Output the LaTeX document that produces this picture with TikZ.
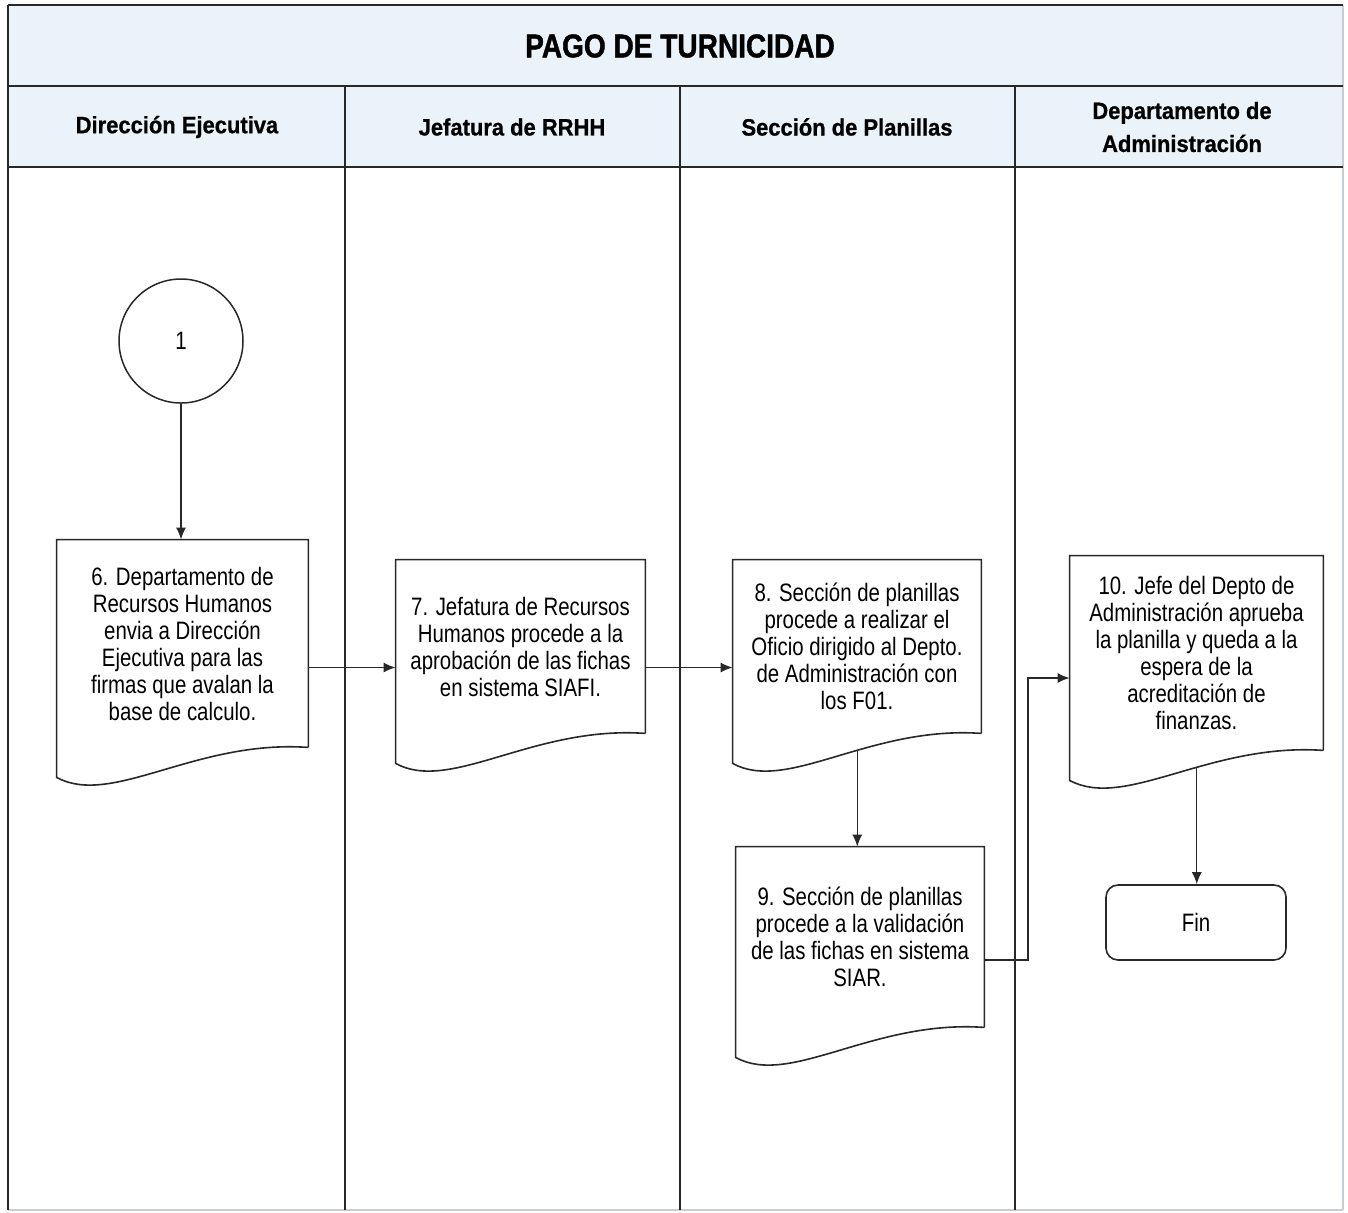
\documentclass[tikz,border=0pt]{standalone}
\usepackage{fontspec}
\usetikzlibrary{arrows.meta,calc,shapes.misc}
\newfontfamily\bodyfont{Liberation Sans}[FakeStretch=0.81]
\newfontfamily\titlefont{Liberation Sans}[FakeStretch=0.85,FakeBold=1.2]
\newfontfamily\lanefont{Liberation Sans}[FakeStretch=0.93,FakeBold=0.8]
\definecolor{hdr}{RGB}{235,243,250}
\definecolor{ln}{RGB}{40,40,40}
\definecolor{faint}{RGB}{200,205,210}
\tikzset{
  bodytext/.style={font=\bodyfont\fontsize{12.6pt}{13.5pt}\selectfont, align=center, text=black},
  docnode/.style={bodytext, rectangle, inner sep=0pt},
  docline/.style={draw=ln, line width=0.8pt},
  arr/.style={draw=ln, line width=0.7pt, -{Latex[length=6pt,width=5pt]}},
  frameline/.style={draw=ln, line width=0.75pt},
  hline/.style={draw=ln, line width=1.2pt},
  lanelabel/.style={font=\lanefont\bfseries\fontsize{11.8pt}{16.5pt}\selectfont, align=center, text=black},
  titlelabel/.style={font=\titlefont\bfseries\fontsize{16.5pt}{18pt}\selectfont, text=black},
  connector/.style={circle, draw=ln, line width=0.75pt, minimum size=62pt, inner sep=0pt, bodytext},
  endbox/.style={rectangle, rounded corners=6pt, draw=ln, line width=0.8pt, minimum width=90pt, minimum height=37.5pt, inner sep=0pt, bodytext}
}
\newcommand\docoutline[1]{%
  \draw[docline] (#1.south east) -- (#1.north east) -- (#1.north west) -- ([yshift=-15pt]#1.south west)
    .. controls ($(#1.south west)!0.22!(#1.south east)+(0pt,-30pt)$) and ($(#1.south west)!0.55!(#1.south east)+(0pt,4pt)$) .. (#1.south east) coordinate[pos=0.585] (#1-b);}
\begin{document}
\begin{tikzpicture}[x=0.5pt,y=-0.5pt]
\useasboundingbox (0,0) rectangle (1348,1212);
\fill[white] (0,0) rectangle (1348,1212);
% header background
\fill[hdr] (8,5) rectangle (1343,167);
% frame
\draw[faint, line width=0.6pt] (1343,5) -- (1343,1210);
\draw[faint, line width=0.8pt] (8,1210) -- (1343,1210);
\draw[hline] (8,5) -- (1343,5);
\draw[hline] (8,86) -- (1343,86);
\draw[hline] (8,167) -- (1343,167);
\draw[frameline] (8,5) -- (8,1210);
\draw[frameline] (345,86) -- (345,1210);
\draw[frameline] (680,86) -- (680,1210);
\draw[frameline] (1015,86) -- (1015,1210);
% titles
\node[titlelabel] (title) at (680,46) {PAGO DE TURNICIDAD};
\node[lanelabel] (h1) at (177,127) {Dirección Ejecutiva};
\node[lanelabel] (h2) at (512,127) {Jefatura de RRHH};
\node[lanelabel] (h3) at (847,127) {Sección de Planillas};
\node[lanelabel] (h4) at (1182,127) {Departamento de\\Administración};
% connector circle
\node[connector] (c1) at (181,341) {1};
% documents
\node[docnode, minimum width=125.5pt, minimum height=103.5pt] (n6) at (182.5,643.5)
  {6. Departamento de\\Recursos Humanos\\envia a Dirección\\Ejecutiva para las\\firmas que avalan la\\base de calculo.};
\node[docnode, minimum width=124.5pt, minimum height=86.5pt] (n7) at (520.5,646.5)
  {7. Jefatura de Recursos\\Humanos procede a la\\aprobación de las fichas\\en sistema SIAFI.};
\node[docnode, minimum width=124pt, minimum height=86.5pt] (n8) at (857,646.5)
  {8. Sección de planillas\\procede a realizar el\\Oficio dirigido al Depto.\\de Administración con\\los F01.};
\node[docnode, minimum width=124pt, minimum height=90pt] (n9) at (860,937)
  {9. Sección de planillas\\procede a la validación\\de las fichas en sistema\\SIAR.};
\node[docnode, minimum width=126.5pt, minimum height=97pt] (n10) at (1196.5,653)
  {10. Jefe del Depto de\\Administración aprueba\\la planilla y queda a la\\espera de la\\acreditación de\\finanzas.};
\docoutline{n6}
\docoutline{n7}
\docoutline{n8}
\docoutline{n9}
\docoutline{n10}
\node[endbox] (fin) at (1196,922.5) {Fin};
% connectors
\draw[arr] (c1.south) -- (c1.south |- n6.north);
\draw[arr] ([yshift=-12pt]n6.east) -- ([yshift=-12pt]n6.east -| n7.west);
\draw[arr] ([yshift=-10.5pt]n7.east) -- ([yshift=-10.5pt]n7.east -| n8.west);
\draw[arr] (n8-b) -- (n8-b |- n9.north);
\coordinate (j) at (1028,678);
\draw[arr] ([yshift=-11.5pt]n9.east) -| (j) -- (j -| n10.west);
\draw[arr] (n10-b) -- (n10-b |- fin.north);
\end{tikzpicture}
\end{document}
